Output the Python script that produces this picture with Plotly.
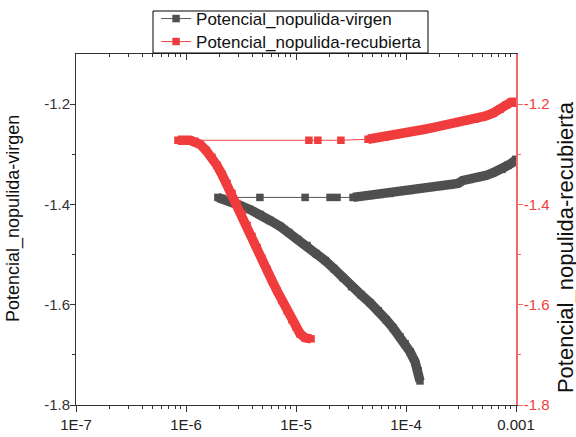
import plotly.graph_objects as go

# ---------------- data (current in A, potential in V) ----------------
virgen_cat_I = [1.34e-4, 1.29e-4, 1.21e-4, 1.09e-4, 9.8e-5, 8.8e-5, 7.6e-5, 6.6e-5, 5.6e-5,
                4.7e-5, 3.9e-5, 3.2e-5, 2.67e-5, 2.21e-5, 1.84e-5, 1.52e-5, 1.26e-5, 1.04e-5,
                8.6e-6, 7.2e-6, 5.8e-6, 4.7e-6, 3.8e-6, 3.1e-6, 2.5e-6, 2.12e-6, 1.95e-6]
virgen_cat_E = [-1.752, -1.732, -1.714, -1.694, -1.678, -1.664, -1.646, -1.630, -1.612,
                -1.596, -1.580, -1.564, -1.546, -1.528, -1.512, -1.498, -1.482, -1.470,
                -1.456, -1.444, -1.432, -1.420, -1.410, -1.402, -1.394, -1.388, -1.386]
virgen_gap_I = [4.7e-6, 1.21e-5, 2.04e-5, 2.36e-5]
virgen_gap_E = [-1.386, -1.386, -1.386, -1.386]
virgen_an_I = [3.30e-5, 3.82e-5, 4.71e-5, 5.80e-5, 7.16e-5, 8.82e-5, 1.087e-4, 1.34e-4, 1.65e-4,
               2.04e-4, 2.51e-4, 2.97e-4, 3.30e-4, 3.82e-4, 4.52e-4, 5.34e-4, 6.31e-4, 7.46e-4,
               8.46e-4, 9.4e-4, 1.0e-3]
virgen_an_E = [-1.386, -1.384, -1.382, -1.380, -1.378, -1.374, -1.372, -1.368, -1.366,
               -1.364, -1.362, -1.358, -1.352, -1.350, -1.346, -1.342, -1.336, -1.330,
               -1.322, -1.316, -1.310]

recub_cat_I = [1.37e-5, 1.21e-5, 1.09e-5, 1.0e-5, 9.2e-6, 8.3e-6, 7.46e-6, 6.71e-6, 6.05e-6,
               5.45e-6, 4.91e-6, 4.42e-6, 3.98e-6, 3.59e-6, 3.23e-6, 2.91e-6, 2.62e-6, 2.36e-6,
               2.12e-6, 1.91e-6, 1.72e-6, 1.52e-6, 1.34e-6, 1.21e-6, 1.09e-6, 9.6e-7, 8.45e-7]
recub_cat_E = [-1.668, -1.666, -1.658, -1.644, -1.630, -1.612, -1.592, -1.572, -1.552,
               -1.530, -1.508, -1.486, -1.464, -1.442, -1.420, -1.398, -1.378, -1.358,
               -1.340, -1.322, -1.306, -1.292, -1.280, -1.274, -1.272, -1.272, -1.272]
recub_gap_I = [1.31e-5, 1.58e-5, 2.56e-5]
recub_gap_E = [-1.272, -1.272, -1.272]
recub_an_I = [4.52e-5, 5.22e-5, 6.44e-5, 7.94e-5, 9.8e-5, 1.21e-4, 1.49e-4, 1.84e-4, 2.27e-4,
              2.79e-4, 3.44e-4, 4.24e-4, 5.22e-4, 6.18e-4, 7.16e-4, 8.11e-4, 9.0e-4, 1.0e-3]
recub_an_E = [-1.270, -1.268, -1.266, -1.262, -1.258, -1.254, -1.250, -1.246, -1.242,
              -1.238, -1.234, -1.230, -1.224, -1.218, -1.210, -1.202, -1.196, -1.196]

x_tickvals = [1e-7, 1e-6, 1e-5, 1e-4, 1e-3]
x_ticktext = ["1E-7", "1E-6", "1E-5", "1E-4", "0.001"]
y_tickvals = [-1.8, -1.6, -1.4, -1.2]
y_ticktext = ["-1.8", "-1.6", "-1.4", "-1.2"]
y_minorvals = [-1.7, -1.5, -1.3]

name_v = "Potencial_nopulida-virgen"
name_r = "Potencial_nopulida-recubierta"

# ---------------- style ----------------
FONT = "Liberation Sans, Arial, sans-serif"
C_V = "#4f4f4f"
C_R = "#f03c3c"
C_RAX = "#f06a6a"

fig = go.Figure()

fig.add_trace(go.Scatter(
    x=virgen_cat_I + virgen_gap_I + virgen_an_I,
    y=virgen_cat_E + virgen_gap_E + virgen_an_E,
    mode="lines+markers", name=name_v, yaxis="y", legend="legend",
    line=dict(color="#555555", width=1),
    marker=dict(symbol="square", size=7.5, color=C_V)))
fig.add_trace(go.Scatter(
    x=recub_cat_I + recub_gap_I + recub_an_I,
    y=recub_cat_E + recub_gap_E + recub_an_E,
    mode="lines+markers", name=name_r, yaxis="y2", legend="legend2",
    line=dict(color="#f04848", width=1),
    marker=dict(symbol="square", size=7.5, color=C_R)))

# thick bands for the dense parts of the curves
for I, E, c, ax in [(virgen_cat_I, virgen_cat_E, C_V, "y"), (virgen_an_I, virgen_an_E, C_V, "y"),
                    (recub_cat_I, recub_cat_E, C_R, "y2"), (recub_an_I, recub_an_E, C_R, "y2")]:
    fig.add_trace(go.Scatter(x=I, y=E, mode="lines", yaxis=ax, showlegend=False,
                             hoverinfo="skip", line=dict(color=c, width=9.5)))

# invisible trace to host the top (mirror) axis
fig.add_trace(go.Scatter(x=virgen_an_I[-1:], y=virgen_an_E[-1:], xaxis="x2", yaxis="y",
                         showlegend=False, hoverinfo="skip", mode="markers",
                         marker=dict(opacity=0)))

leg_common = dict(xanchor="left", yanchor="top", borderwidth=0,
                  bgcolor="rgba(0,0,0,0)", itemwidth=30,
                  font=dict(family=FONT, size=17, color="#111111"))

fig.update_layout(
    width=576, height=437,
    margin=dict(l=76, r=60, t=54, b=32, autoexpand=False),
    paper_bgcolor="white", plot_bgcolor="white",
    font=dict(family=FONT, size=15, color="#222222"),
    showlegend=True,
    legend=dict(x=0.182, y=1.151, **leg_common),
    legend2=dict(x=0.182, y=1.0855, **leg_common),
    shapes=[dict(type="rect", xref="paper", yref="paper", x0=0.175, x1=0.8,
                 y0=1.0028, y1=1.1225, line=dict(color="#000000", width=1),
                 fillcolor="white", layer="above")],
    xaxis=dict(type="log", range=[-7, -3], tickmode="array",
               tickvals=x_tickvals, ticktext=x_ticktext,
               ticks="outside", ticklen=6, tickwidth=1, tickcolor="#333333",
               showline=True, mirror=True, linecolor="#333333", linewidth=1,
               showgrid=False, zeroline=False,
               minor=dict(ticks="outside", ticklen=3, tickcolor="#333333", dtick="D1",
                          showgrid=False),
               tickfont=dict(size=15, color="#222222")),
    xaxis2=dict(type="log", range=[-7, -3], overlaying="x", side="top", anchor="y",
                tickmode="array", tickvals=x_tickvals, showticklabels=False,
                ticks="inside", ticklen=6, tickcolor="#333333",
                showline=True, linecolor="#333333", linewidth=1, showgrid=False,
                minor=dict(ticks="inside", ticklen=3, tickcolor="#333333", dtick="D1",
                           showgrid=False)),
    yaxis=dict(range=[-1.8, -1.1], tickmode="array", tickvals=y_tickvals,
               ticktext=y_ticktext, ticks="outside", ticklen=5, tickcolor="#333333",
               showline=True, linecolor="#333333", linewidth=1, showgrid=False,
               zeroline=False, ticklabelstandoff=-3,
               minor=dict(ticks="outside", ticklen=3, tickcolor="#333333",
                          tickmode="array", tickvals=y_minorvals, showgrid=False),
               tickfont=dict(size=15, color="#333333")),
    yaxis2=dict(range=[-1.8, -1.1], overlaying="y", side="right", tickmode="array",
                tickvals=y_tickvals, ticktext=y_ticktext, ticks="outside", ticklen=5,
                tickcolor=C_RAX, showline=True, linecolor=C_RAX, linewidth=1.5,
                showgrid=False, zeroline=False, ticklabelstandoff=-2,
                minor=dict(ticks="outside", ticklen=3, tickcolor=C_RAX,
                           tickmode="array", tickvals=y_minorvals, showgrid=False),
                tickfont=dict(size=15, color=C_R)),
    annotations=[
        dict(text=name_v, xref="paper", yref="paper", x=0, y=0.53, xshift=-62,
             xanchor="center", yanchor="middle", textangle=-90, showarrow=False,
             font=dict(family=FONT, size=18, color="#111111")),
        dict(text=name_r, xref="paper", yref="paper", x=1, y=0.45, xshift=49,
             xanchor="center", yanchor="middle", textangle=-90, showarrow=False,
             font=dict(family=FONT, size=22, color="#111111")),
    ],
)

fig.write_html("out.html", config={"displayModeBar": False},
               post_script="document.body.style.margin='0';document.body.style.overflow='hidden';")
